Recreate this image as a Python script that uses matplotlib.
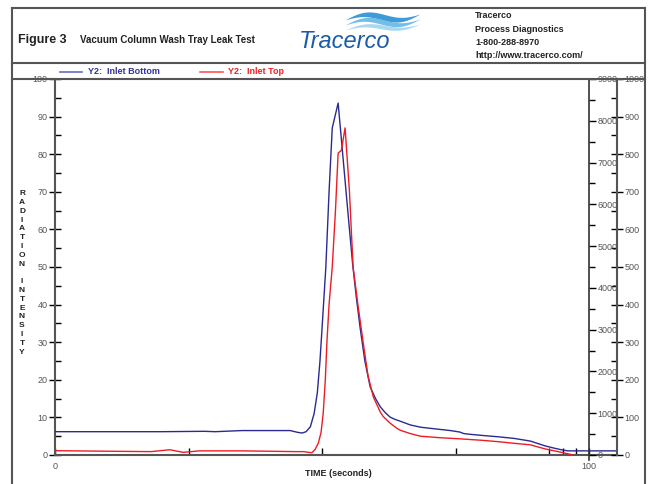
import numpy as np
import matplotlib
matplotlib.use('Agg')
import matplotlib.pyplot as plt

plt.rcParams['font.family'] = ['Liberation Sans', 'DejaVu Sans']

# Y2: Inlet Bottom (blue), time in seconds vs radiation intensity
bottom_t = [0, 10, 20, 28, 30, 35, 40, 44, 45.5, 46.3, 47.0, 47.8, 48.5, 49.1,
            49.6, 50.0, 50.7, 51.3, 51.9, 53.0, 53.9, 54.8, 55.7, 56.4, 57.1,
            58.0, 59.0, 60.0, 60.9, 61.8, 62.7, 63.6, 64.6, 66.5, 68.4, 70.2,
            72.1, 74.0, 75.8, 76.5, 77.7, 80.0, 83.3, 86.0, 89.0, 90.5, 91.8,
            93.5, 95.1, 96.0, 105.2]
bottom_v = [6.2, 6.2, 6.2, 6.3, 6.2, 6.5, 6.5, 6.5, 6.0, 5.85, 6.2, 7.5, 11, 16.5,
            25, 34, 50, 70, 87, 93.6, 79.3, 65, 51, 42, 34,
            25, 18.1, 15, 12.8, 11.3, 10.1, 9.5, 9.0, 8.0, 7.4, 7.1,
            6.8, 6.5, 6.1, 5.7, 5.5, 5.2, 4.8, 4.4, 3.7, 3.0, 2.4,
            1.8, 1.3, 1.1, 1.1]

# Y2: Inlet Top (red)
top_t = [0, 10, 18, 21.5, 24, 27, 35, 45, 46.5, 47.5, 48.1, 48.7, 49.3, 49.8,
         50.2, 50.6, 50.9, 51.3, 51.9, 52.5, 53.0, 53.6, 54.3, 55.1, 55.8,
         56.7, 57.7, 58.6, 59.6, 60.9, 61.4, 62.7, 64.0, 64.6, 66.5, 68.4,
         72.0, 75.8, 80.0, 83.3, 86.0, 89.0, 90.5, 91.8, 94.5, 97.0]
top_v = [1.15, 1.0, 0.9, 1.4, 0.7, 1.1, 1.1, 0.9, 0.9, 0.7, 0.6, 1.5, 3.2, 6,
         11, 20, 30, 40, 50, 65, 80.3, 81, 87, 70.5, 50,
         40, 29.8, 21, 15.4, 11.4, 10.3, 8.5, 7.1, 6.6, 5.7, 5.0,
         4.6, 4.3, 3.9, 3.5, 3.1, 2.7, 2.1, 1.6, 0.8, 0.0]

header_lines = ['Tracerco', 'Process Diagnostics', '1-800-288-8970',
                'http://www.tracerco.com/']

W, H = 650, 484
fig = plt.figure(figsize=(6.5, 4.84), dpi=100)

def fx(px):
    return px / W

def fy(py):
    return 1 - py / H

tick_col = '#555555'
spine_col = '#555555'

# main axes (left scale 0..100)
ax = fig.add_axes([fx(55), fy(455), fx(617) - fx(55), fy(79) - fy(455)])
ax.plot(bottom_t, bottom_v, color='#2a2a90', lw=1.0, zorder=3,
        solid_joinstyle='round')
ax.plot(top_t, top_v, color='#ee1c25', lw=1.0, zorder=3,
        solid_joinstyle='round')
ax.set_xlim(0, 105.2)
ax.set_ylim(0, 100)
for s in ['top', 'right']:
    ax.spines[s].set_visible(False)
for s in ['left', 'bottom']:
    ax.spines[s].set_color(spine_col)
    ax.spines[s].set_linewidth(1.5)
ax.set_yticks(np.arange(0, 101, 10))
ax.set_yticks(np.arange(5, 100, 10), minor=True)
ax.tick_params(axis='y', which='major', direction='inout', length=9, width=1,
               labelsize=6.5, labelcolor=tick_col, pad=1)
ax.tick_params(axis='y', which='minor', direction='in', length=4, width=1)
ax.set_xticks([0, 25, 50, 75, 100])
ax.set_xticklabels(['0', '', '', '', '100'])
ax.set_xticks([92.5, 95, 97.5], minor=True)
ax.tick_params(axis='x', which='major', direction='in', length=5, width=1,
               labelsize=6.5, labelcolor=tick_col, pad=5)
ax.tick_params(axis='x', which='minor', direction='in', length=5, width=1)

# right scale 0..1000 on the far right
ax2 = ax.twinx()
ax2.set_ylim(0, 1000)
for s in ['top', 'left', 'bottom']:
    ax2.spines[s].set_visible(False)
ax2.spines['right'].set_color(spine_col)
ax2.spines['right'].set_linewidth(1.5)
ax2.set_yticks(np.arange(0, 1001, 100))
ax2.set_yticks(np.arange(50, 1000, 100), minor=True)
ax2.tick_params(axis='y', which='major', direction='inout', length=9, width=1,
                labelsize=6.5, labelcolor=tick_col, pad=1)
ax2.tick_params(axis='y', which='minor', direction='in', length=4, width=1)

# right scale 0..9000 at x = 100
ax3 = ax.twinx()
ax3.set_ylim(0, 9000)
for s in ['top', 'left', 'bottom']:
    ax3.spines[s].set_visible(False)
ax3.spines['right'].set_position(('data', 100))
ax3.spines['right'].set_color('#333333')
ax3.spines['right'].set_linewidth(1.2)
ax3.spines['right'].set_bounds(-120, 9000)
ax3.set_yticks(np.arange(0, 9001, 1000))
ax3.set_yticks(np.arange(500, 9000, 1000), minor=True)
ax3.tick_params(axis='y', which='major', direction='out', length=5, width=1,
                labelsize=6.5, labelcolor=tick_col, pad=1)
ax3.tick_params(axis='y', which='minor', direction='out', length=4, width=1)

# overlay for frame, header and labels (pixel coordinates)
ov = fig.add_axes([0, 0, 1, 1], zorder=5)
ov.set_xlim(0, W)
ov.set_ylim(H, 0)
ov.axis('off')
ov.patch.set_alpha(0)

fc = '#555555'
ov.plot([12, 12], [8, H], color=fc, lw=1.5)
ov.plot([645, 645], [8, H], color=fc, lw=1.5)
ov.plot([12, 645], [8, 8], color=fc, lw=1.5)
ov.plot([12, 645], [63, 63], color=fc, lw=1.5)
ov.plot([12, 645], [79, 79], color=fc, lw=1.5)

ov.text(18, 40, 'Figure 3', fontsize=9, fontweight='bold', va='center', color='#222222')
ov.text(80, 40, 'Vacuum Column Wash Tray Leak Test', fontsize=7, fontweight='bold',
        va='center', color='#222222')

# logo
ov.text(299, 41, 'Tracerco', fontsize=17, style='italic', color='#1b5ca6',
        va='center', family=['Liberation Sans Narrow', 'Liberation Sans'])
xs = np.linspace(345, 420, 60)
for amp, off, col, th in [(4, 20, '#3f9bd6', 3.0),
                          (4, 25, '#74bde8', 2.5),
                          (3, 30, '#a9d8f2', 2.0)]:
    yc = off - amp * np.sin((xs - 345) / 75 * 2 * np.pi) - (xs - 345) * 0.08
    w = th * np.sin((xs - 345) / 75 * np.pi)
    ov.fill_between(xs, yc - w, yc + w, color=col, lw=0)

for i, s in enumerate(header_lines):
    ov.text(475, 16 + i * 13.3, s, fontsize=6.5, fontweight='bold', va='center',
            color='#222222')

# legend row
ov.plot([60, 82], [71.5, 71.5], color='#6a6ac8', lw=1.2)
ov.text(88, 71.5, 'Y2:  Inlet Bottom', fontsize=6.5, fontweight='bold',
        color='#333399', va='center')
ov.plot([200, 223], [71.5, 71.5], color='#ff5555', lw=1.2)
ov.text(228, 71.5, 'Y2:  Inlet Top', fontsize=6.5, fontweight='bold',
        color='#ee2222', va='center')

ov.text(22, 273, 'R\nA\nD\nI\nA\nT\nI\nO\nN\n\nI\nN\nT\nE\nN\nS\nI\nT\nY',
        fontsize=6, fontweight='bold', ha='center', va='center',
        linespacing=1.36, color='#222222')
ov.text(338, 474, 'TIME (seconds)', fontsize=6.5, fontweight='bold',
        ha='center', va='center', color='#222222')

fig.savefig('out.png', dpi=100)
